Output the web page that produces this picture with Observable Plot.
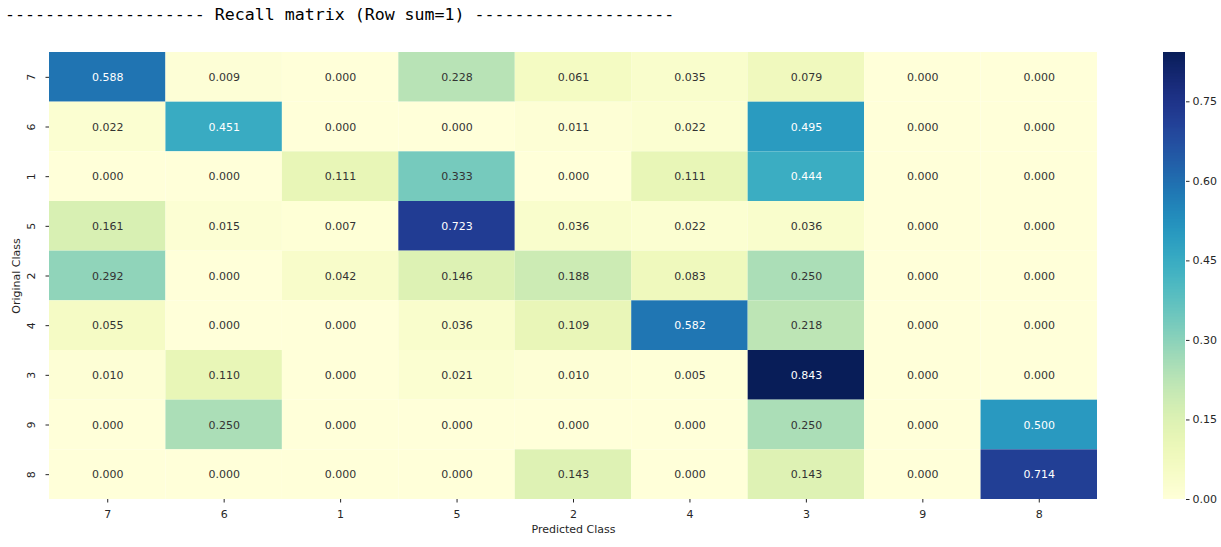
<!DOCTYPE html>
<html>
<head>
<meta charset="utf-8">
<script src="https://cdn.jsdelivr.net/npm/d3@7"></script>
<script src="https://cdn.jsdelivr.net/npm/@observablehq/plot@0.6"></script>
<style>
  html, body { margin: 0; padding: 0; background: #fff; }
  #wrap { position: relative; width: 1221px; height: 547px; overflow: hidden; }
  #title { position: absolute; left: 5px; top: 0; height: 30px; line-height: 30px;
           font-family: "DejaVu Sans Mono", monospace; font-size: 16.6px; white-space: pre; color: #000; }
  #main { position: absolute; left: 0; top: 30px; width: 1221px; }
  #cbar { position: absolute; left: 1163px; top: 30px; width: 62px; }
  #main svg, #cbar svg { display: block; max-width: none !important; }
  svg text { font-family: "DejaVu Sans", sans-serif; }
</style>
</head>
<body>
<div id="wrap">
  <div id="title">-------------------- Recall matrix (Row sum=1) --------------------</div>
  <div id="main"></div>
  <div id="cbar"></div>
</div>
<script>
// Class order along both axes (as shown)
const classes = ["7", "6", "1", "5", "2", "4", "3", "9", "8"];

// Row values (original class), columns follow predicted class order above
const row7 = [0.588, 0.009, 0.000, 0.228, 0.061, 0.035, 0.079, 0.000, 0.000];
const row6 = [0.022, 0.451, 0.000, 0.000, 0.011, 0.022, 0.495, 0.000, 0.000];
const row1 = [0.000, 0.000, 0.111, 0.333, 0.000, 0.111, 0.444, 0.000, 0.000];
const row5 = [0.161, 0.015, 0.007, 0.723, 0.036, 0.022, 0.036, 0.000, 0.000];
const row2 = [0.292, 0.000, 0.042, 0.146, 0.188, 0.083, 0.250, 0.000, 0.000];
const row4 = [0.055, 0.000, 0.000, 0.036, 0.109, 0.582, 0.218, 0.000, 0.000];
const row3 = [0.010, 0.110, 0.000, 0.021, 0.010, 0.005, 0.843, 0.000, 0.000];
const row9 = [0.000, 0.250, 0.000, 0.000, 0.000, 0.000, 0.250, 0.000, 0.500];
const row8 = [0.000, 0.000, 0.000, 0.000, 0.143, 0.000, 0.143, 0.000, 0.714];

const colorTicks = [0, 0.15, 0.30, 0.45, 0.60, 0.75];

const rows = [row7, row6, row1, row5, row2, row4, row3, row9, row8];
const cells = [];
rows.forEach((r, i) => r.forEach((v, j) => cells.push({orig: classes[i], pred: classes[j], v})));

const vmax = d3.max(cells, d => d.v);
const colorOpts = {type: "linear", scheme: "YlGnBu", domain: [0, vmax]};

const main = Plot.plot({
  width: 1221, height: 517,
  marginTop: 22, marginBottom: 48, marginLeft: 49, marginRight: 124,
  style: {fontFamily: "DejaVu Sans", fontSize: "11px", color: "#262626", background: "#fff"},
  x: {domain: classes, padding: 0, round: false, label: "Predicted Class", labelAnchor: "center", labelOffset: 33, tickSize: 3.5, tickPadding: 7, labelArrow: false},
  y: {domain: classes, padding: 0, round: false, label: "Original Class", labelAnchor: "center", labelOffset: 37, tickSize: 3.5, tickPadding: 11.5, tickRotate: -90, labelArrow: false},
  color: colorOpts,
  marks: [
    Plot.cell(cells, {x: "pred", y: "orig", fill: "v", inset: 0}),
    Plot.text(cells, {x: "pred", y: "orig", text: d => d.v.toFixed(3), fontSize: 11,
      fill: d => d.v > 0.42 ? "#ffffff" : "#333333"})
  ]
});
document.getElementById("main").appendChild(main);

const steps = d3.range(0, 300).map(i => ({lo: vmax * i / 300, hi: vmax * (i + 1) / 300, mid: vmax * (i + 0.5) / 300}));
const cbar = Plot.plot({
  width: 62, height: 517,
  marginTop: 22, marginBottom: 48, marginLeft: 0, marginRight: 40,
  style: {fontFamily: "DejaVu Sans", fontSize: "11px", color: "#262626", background: "transparent", overflow: "visible"},
  x: {domain: [0, 1], axis: null},
  y: {domain: [0, vmax], axis: "right", ticks: colorTicks, tickFormat: d3.format(".2f"), tickSize: 3.5, tickPadding: 3.5, label: null},
  color: colorOpts,
  marks: [
    Plot.rect(steps, {x1: 0, x2: 1, y1: "lo", y2: "hi", fill: "mid", shapeRendering: "crispEdges"})
  ]
});
document.getElementById("cbar").appendChild(cbar);
</script>
</body>
</html>
